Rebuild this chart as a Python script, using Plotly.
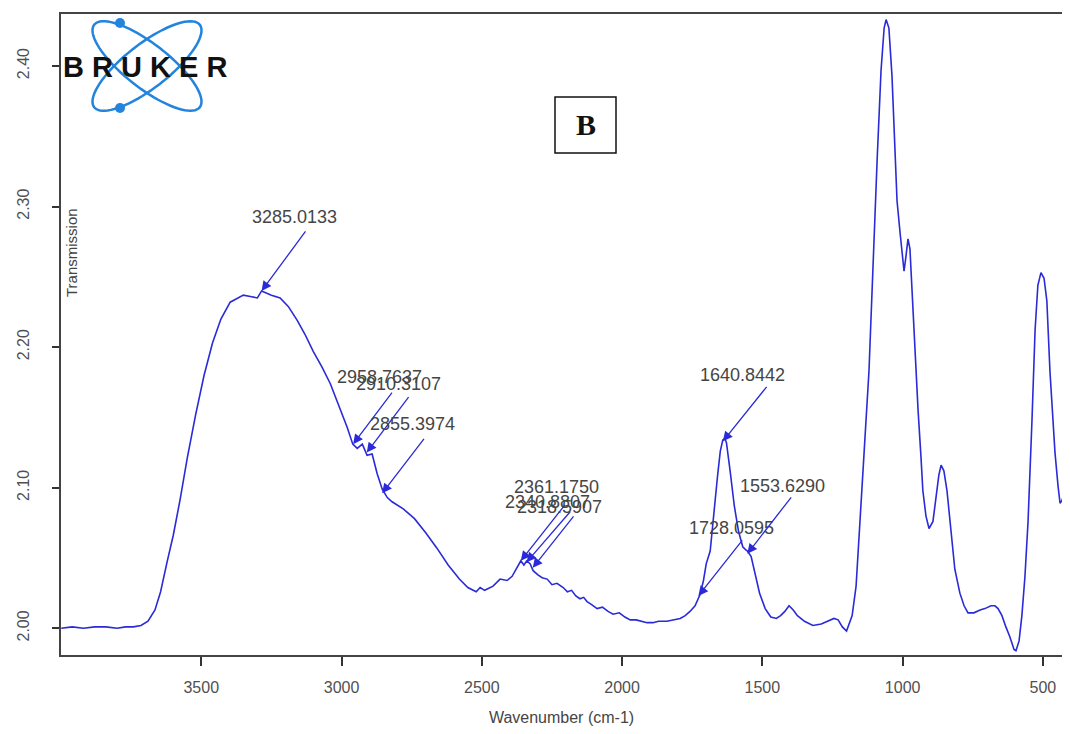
import numpy as np
import plotly.graph_objects as go

# spectrum (wavenumber, transmission)
wavenumber = [
    3999, 3960, 3920, 3880, 3840, 3800, 3770, 3742, 3715, 3690, 3665, 3645, 3621,
    3600, 3575, 3550, 3520, 3490, 3460, 3430, 3397, 3370, 3350, 3325, 3300, 3285,
    3250, 3219, 3190, 3158, 3130, 3101, 3070, 3040, 3010, 2980, 2960, 2944, 2926,
    2909, 2891, 2873, 2855, 2837, 2820, 2780, 2740, 2700, 2660, 2620, 2580, 2550,
    2520, 2506, 2490, 2460, 2435, 2410, 2392, 2374, 2361, 2350, 2340, 2328, 2317,
    2300, 2285, 2267, 2250, 2232, 2210, 2195, 2180, 2165, 2150, 2137, 2125, 2110,
    2089, 2070, 2050, 2032, 2010, 1990, 1971, 1950, 1930, 1911, 1890, 1870, 1840,
    1815, 1793, 1775, 1758, 1740, 1722, 1710, 1700, 1686, 1670, 1660, 1650, 1641,
    1634, 1628, 1615, 1600, 1585, 1570, 1560, 1553, 1540, 1525, 1510, 1490, 1470,
    1450, 1435, 1420, 1405, 1390, 1375, 1350, 1320, 1290, 1265, 1245, 1230, 1215,
    1200, 1188, 1180, 1166, 1152, 1138, 1120, 1106, 1091, 1077, 1066, 1059, 1049,
    1038, 1027, 1020, 1009, 999, 995, 988, 981, 974, 967, 956, 945, 935, 928, 917,
    906, 892, 881, 871, 863, 853, 842, 828, 814, 796, 781, 767, 746, 724, 707, 685,
    671, 660, 646, 632, 618, 603, 596, 585, 575, 564, 553, 539, 528, 518, 507, 496,
    486, 475, 468, 457, 446, 439, 432, 425, 418, 404,
]
transmission = [
    2.000, 2.001, 2.000, 2.001, 2.001, 2.000, 2.001, 2.001, 2.002, 2.005, 2.013, 2.026, 2.048,
    2.066, 2.092, 2.121, 2.152, 2.180, 2.203, 2.220, 2.232, 2.235, 2.237, 2.236, 2.235, 2.240,
    2.237, 2.235, 2.229, 2.219, 2.209, 2.197, 2.186, 2.174, 2.159, 2.143, 2.131, 2.128, 2.131,
    2.123, 2.124, 2.110, 2.099, 2.093, 2.090, 2.085, 2.078, 2.068, 2.057, 2.045, 2.035, 2.029,
    2.026, 2.029, 2.027, 2.030, 2.035, 2.034, 2.037, 2.043, 2.048, 2.045, 2.048, 2.046, 2.041,
    2.038, 2.036, 2.035, 2.031, 2.032, 2.029, 2.026, 2.027, 2.023, 2.021, 2.022, 2.019, 2.017,
    2.014, 2.015, 2.012, 2.010, 2.011, 2.008, 2.006, 2.006, 2.005, 2.004, 2.004, 2.005, 2.005,
    2.006, 2.007, 2.009, 2.012, 2.016, 2.024, 2.034, 2.046, 2.055, 2.091, 2.108, 2.126, 2.134,
    2.135, 2.132, 2.112, 2.087, 2.069, 2.058, 2.056, 2.055, 2.051, 2.037, 2.025, 2.014, 2.008,
    2.007, 2.009, 2.012, 2.016, 2.013, 2.009, 2.005, 2.002, 2.003, 2.005, 2.007, 2.006, 2.001,
    1.998, 2.004, 2.009, 2.030, 2.073, 2.123, 2.183, 2.262, 2.333, 2.397, 2.427, 2.433, 2.427,
    2.393, 2.340, 2.304, 2.281, 2.260, 2.254, 2.265, 2.277, 2.270, 2.240, 2.197, 2.155, 2.123,
    2.098, 2.080, 2.071, 2.076, 2.094, 2.109, 2.116, 2.112, 2.098, 2.069, 2.042, 2.025, 2.016,
    2.011, 2.011, 2.013, 2.014, 2.016, 2.016, 2.014, 2.009, 2.001, 1.994, 1.985, 1.984, 1.991,
    2.009, 2.037, 2.076, 2.148, 2.212, 2.244, 2.253, 2.249, 2.233, 2.183, 2.158, 2.125, 2.101,
    2.089, 2.091, 2.096, 2.082, 2.058,
]

# peak labels: text, arrow head position
peak_text = ["3285.0133", "2958.7637", "2910.3107", "2855.3974", "2361.1750",
             "2340.8807", "2318.5907", "1728.0595", "1640.8442", "1553.6290"]
peak_x = [3285.0133, 2958.7637, 2910.3107, 2855.3974, 2361.1750,
          2340.8807, 2318.5907, 1728.0595, 1640.8442, 1553.6290]
peak_y = [2.240, 2.131, 2.125, 2.096, 2.048, 2.047, 2.043, 2.023, 2.133, 2.053]

# arrow tail offsets and label offsets (pixels from arrow head)
tail_dx = [45, 40, 43, 43, 45, 45, 42, 45, 45, 45]
tail_dy = [-61, -53, -57, -56, -57, -52, -53, -57, -56, -58]
label_dx = [33, 26, 32, 30, 36, 21, 27, 33, 20, 35]
label_dy = [-74, -67, -69, -69, -74, -60, -61, -68, -66, -68]

fig = go.Figure()
fig.add_trace(go.Scatter(
    x=wavenumber, y=transmission, mode="lines",
    line=dict(color="#2a2ad8", width=1.6), showlegend=False,
))

font = dict(family="Liberation Sans, Arial, sans-serif", size=18, color="#454545")

for t, x, y, tdx, tdy, ldx, ldy in zip(peak_text, peak_x, peak_y,
                                       tail_dx, tail_dy, label_dx, label_dy):
    fig.add_annotation(x=x, y=y, text="", showarrow=True, ax=tdx, ay=tdy,
                       arrowhead=2, arrowsize=1.5, arrowwidth=1.3,
                       arrowcolor="#2a2ad8")
    fig.add_annotation(x=x, y=y, text=t, showarrow=False, xshift=ldx,
                       yshift=-ldy, font=font)

# plot area as seen on the page (the page body adds an 8px margin)
OFF = 8
FW, FH = 1070 - 2 * OFF, 734 - 2 * OFF
L, T = 61, 14
W, H = OFF + FW - L, 641


def px(xp, yp):
    return (xp - L) / W, (T + H - yp) / H


# Bruker logo: two crossed ellipses with dots
cx, cy, a, b = 147, 66, 67, 22
th = np.linspace(0, 2 * np.pi, 80)
for ang in (np.radians(38), np.radians(-38)):
    ex = cx + a * np.cos(th) * np.cos(ang) - b * np.sin(th) * np.sin(ang)
    ey = cy + a * np.cos(th) * np.sin(ang) + b * np.sin(th) * np.cos(ang)
    pts = [px(u, v) for u, v in zip(ex, ey)]
    path = "M " + " L ".join(f"{u:.5f},{v:.5f}" for u, v in pts) + " Z"
    fig.add_shape(type="path", path=path, xref="paper", yref="paper",
                  line=dict(color="#2284dc", width=2.5))
for dy in (23, 108):
    x0, y0 = px(115, dy - 5)
    x1, y1 = px(125, dy + 5)
    fig.add_shape(type="circle", xref="paper", yref="paper", x0=x0, y0=y1,
                  x1=x1, y1=y0, fillcolor="#2284dc", line=dict(width=0))
lx, ly = px(145, 67)
fig.add_annotation(x=lx, y=ly, xref="paper", yref="paper", showarrow=False,
                   xanchor="center", yanchor="middle",
                   text="<b>B R U K E R</b>",
                   font=dict(family="Liberation Sans, Arial", size=29, color="#111111"))

# "B" panel box
bx0, by0 = px(555, 97)
bx1, by1 = px(616, 153)
fig.add_shape(type="rect", xref="paper", yref="paper", x0=bx0, y0=by1, x1=bx1,
              y1=by0, line=dict(color="#111111", width=1.5), fillcolor="white")
fig.add_annotation(x=(bx0 + bx1) / 2, y=(by0 + by1) / 2, xref="paper", yref="paper",
                   showarrow=False, xanchor="center", yanchor="middle",
                   text="<b>B</b>",
                   font=dict(family="Liberation Serif, Times New Roman", size=30,
                             color="#111111"))

tx, ty = px(71, 253)
fig.add_annotation(x=tx, y=ty, xref="paper", yref="paper", showarrow=False,
                   xanchor="center", yanchor="middle",
                   text="Transmission", textangle=-90, font=dict(font, size=15))

fig.update_layout(
    width=FW, height=FH,
    margin=dict(l=L - OFF, r=0, t=T - OFF, b=FH - (T - OFF) - H,
                autoexpand=False),
    paper_bgcolor="white", plot_bgcolor="white",
    font=font,
)
fig.update_xaxes(
    range=[4000, 432], tickvals=[3500, 3000, 2500, 2000, 1500, 1000, 500],
    ticks="outside", ticklen=9, tickwidth=1.5, tickcolor="#333",
    showline=True, mirror=True, linecolor="#444", linewidth=2,
    showgrid=False, zeroline=False, ticklabelstandoff=8, automargin=False,
    tickfont=dict(size=16, color="#505050"),
    title=dict(text="Wavenumber (cm-1)", standoff=18, font=dict(size=16, color="#454545")),
)
fig.update_yaxes(
    range=[1.981, 2.437], tickvals=[2.0, 2.1, 2.2, 2.3, 2.4], tickformat=".2f",
    ticks="outside", ticklen=7, tickwidth=1.5, tickcolor="#333", tickangle=-90,
    showline=True, mirror=True, linecolor="#444", linewidth=2,
    showgrid=False, zeroline=False, ticklabelstandoff=17, automargin=False,
    tickfont=dict(size=16, color="#505050"),
)

fig.write_html("out.html")
